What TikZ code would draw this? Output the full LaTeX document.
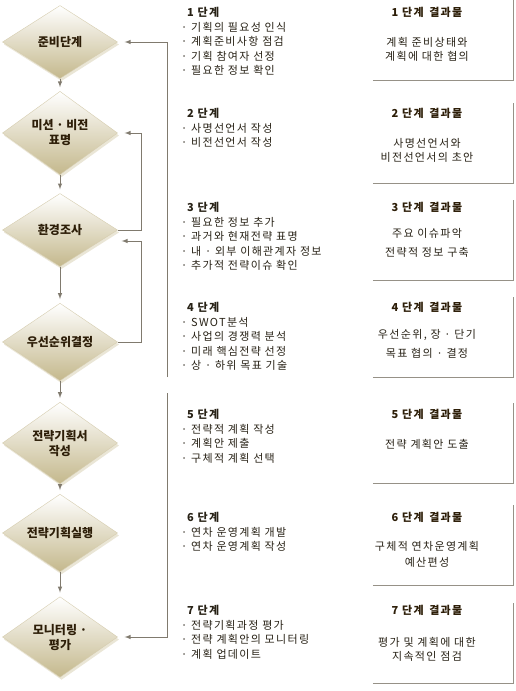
\documentclass[tikz,border=0pt]{standalone}
\usepackage{fontspec}
\setmainfont{Noto Sans CJK KR}
\newfontfamily\kr{Noto Sans CJK KR}[LetterSpace=12]
\usetikzlibrary{shapes.geometric,shadows}
\definecolor{dtan}{RGB}{196,184,140}
\definecolor{dbrown}{RGB}{45,30,8}
\definecolor{txt}{RGB}{40,34,22}
\definecolor{lnc}{RGB}{128,122,110}
\definecolor{boxc}{RGB}{150,145,135}
\begin{document}
\begin{tikzpicture}[x=1pt, y=-1pt,
  phase/.style={diamond, minimum width=115pt, minimum height=73pt, inner sep=0pt, align=center,
    top color=white, bottom color=dtan, draw=dtan!70, text=dbrown,
    font=\bfseries\fontsize{12}{15}\selectfont,
    drop shadow={shadow xshift=1.5pt, shadow yshift=-2.5pt, fill=dtan, opacity=0.35}},
  stagetext/.style={anchor=north west, align=left, inner sep=0pt, text=txt, font=\kr\fontsize{11}{14.6}\selectfont},
  resultbox/.style={minimum width=140pt, minimum height=80pt, inner sep=0pt},
  resulthead/.style={text=dbrown, inner sep=0pt, font=\kr\bfseries\fontsize{11}{13}\selectfont},
  resulttext/.style={align=center, text=txt, inner sep=0pt, font=\kr\fontsize{11}{14}\selectfont},
  link/.style={->, >=latex, draw=lnc, line width=1pt}]
  \useasboundingbox[fill=white] (0,0) rectangle (515,691);
  % the seven phases
  \node[phase] (1) at (60,42) {준비단계};
  \node[phase] (2) at (60,133) {미션 · 비전\\표명};
  \node[phase] (3) at (60,230) {환경조사};
  \node[phase] (4) at (60,342) {우선순위결정};
  \node[phase] (5) at (60,443) {전략기획서\\작성};
  \node[phase] (6) at (60,533) {전략기획실행};
  \node[phase] (7) at (60,637) {모니터링 ·\\평가};
  \draw[link, shorten >=4pt] (1) -- (2);
  \draw[link, shorten >=4pt] (2) -- (3);
  \draw[link, shorten >=4pt] (3) -- (4);
  \draw[link, shorten >=4pt] (4) -- (5);
  \draw[link, shorten >=4pt] (5) -- (6);
  \draw[link, shorten >=4pt] (6) -- (7);
  % feedback lines
  \coordinate (up) at (167,377);
  \coordinate (down) at (167,393);
  \draw[link, shorten >=7pt] (up) |- (1.east);
  \draw[link, shorten >=7pt] (3.east) -- ++(24,0) |- (2.east);
  \draw[link] (4.east) -- ++(24,0) |- ([xshift=4pt, yshift=-11pt]3.east);
  \draw[link, shorten >=7pt] (down) |- (7.east);
  % what is done in each stage
  \node[stagetext] (s1) at (181,7) {\hspace*{6pt}\textbf{1 단계}\\· 기획의 필요성 인식\\· 계획준비사항 점검\\· 기획 참여자 선정\\· 필요한 정보 확인};
  \node[stagetext] (s2) at (181,108) {\hspace*{6pt}\textbf{2 단계}\\· 사명선언서 작성\\· 비전선언서 작성};
  \node[stagetext] (s3) at (181,202) {\hspace*{6pt}\textbf{3 단계}\\· 필요한 정보 추가\\· 과거와 현재전략 표명\\· 내 · 외부 이해관계자 정보\\· 추가적 전략이슈 확인};
  \node[stagetext] (s4) at (181,302) {\hspace*{6pt}\textbf{4 단계}\\· SWOT분석\\· 사업의 경쟁력 분석\\· 미래 핵심전략 선정\\· 상 · 하위 목표 기술};
  \node[stagetext] (s5) at (181,409) {\hspace*{6pt}\textbf{5 단계}\\· 전략적 계획 작성\\· 계획안 제출\\· 구체적 계획 선택};
  \node[stagetext] (s6) at (181,512) {\hspace*{6pt}\textbf{6 단계}\\· 연차 운영계획 개발\\· 연차 운영계획 작성};
  \node[stagetext] (s7) at (181,605) {\hspace*{6pt}\textbf{7 단계}\\· 전략기획과정 평가\\· 전략 계획안의 모니터링\\· 계획 업데이트};
  % results
  \node[resultbox] (r1) at (443,40) {};
  \node[resultbox] (r2) at (443,143) {};
  \node[resultbox] (r3) at (443,240) {};
  \node[resultbox] (r4) at (443,337) {};
  \node[resultbox] (r5) at (443,443) {};
  \node[resultbox] (r6) at (443,545) {};
  \node[resultbox] (r7) at (443,643) {};
  \draw[boxc, line width=1.3pt] (r1.south west) -- (r1.south east) -- (r1.north east);
  \draw[boxc, line width=1.3pt] (r2.south west) -- (r2.south east) -- (r2.north east);
  \draw[boxc, line width=1.3pt] (r3.south west) -- (r3.south east) -- (r3.north east);
  \draw[boxc, line width=1.3pt] (r4.south west) -- (r4.south east) -- (r4.north east);
  \draw[boxc, line width=1.3pt] (r5.south west) -- (r5.south east) -- (r5.north east);
  \draw[boxc, line width=1.3pt] (r6.south west) -- (r6.south east) -- (r6.north east);
  \draw[boxc, line width=1.3pt] (r7.south west) -- (r7.south east) -- (r7.north east);
  \node[resulthead] (h1) at (427,12) {1 단계\enspace 결과물};
  \node[resulthead] (h2) at (427,113) {2 단계\enspace 결과물};
  \node[resulthead] (h3) at (427,207) {3 단계\enspace 결과물};
  \node[resulthead] (h4) at (427,307) {4 단계\enspace 결과물};
  \node[resulthead] (h5) at (427,414) {5 단계\enspace 결과물};
  \node[resulthead] (h6) at (427,517) {6 단계\enspace 결과물};
  \node[resulthead] (h7) at (427,610) {7 단계\enspace 결과물};
  \node[resulttext] (t1) at (427,49) {계획 준비상태와\\계획에 대한 협의};
  \node[resulttext] (t2) at (427,150) {사명선언서와\\비전선언서의 초안};
  \node[resulttext] (t3) at (427,243) {주요 이슈파악\\[5pt]전략적 정보 구축};
  \node[resulttext] (t4) at (427,344) {우선순위, 장 · 단기\\[5pt]목표 협의 · 결정};
  \node[resulttext] (t5) at (427,444) {전략 계획안 도출};
  \node[resulttext] (t6) at (427,554) {구체적 연차운영계획\\[2pt]예산편성};
  \node[resulttext] (t7) at (427,649) {평가 및 계획에 대한\\지속적인 점검};
\end{tikzpicture}
\end{document}
